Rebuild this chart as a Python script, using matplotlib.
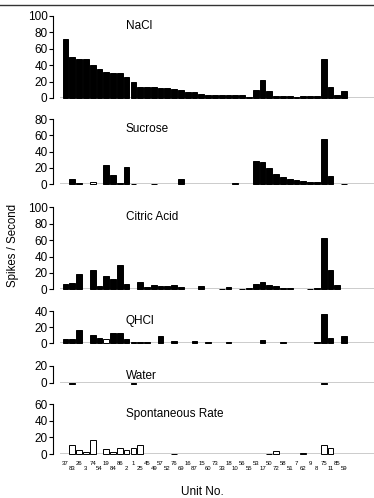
import matplotlib
matplotlib.use("Agg")
import matplotlib.pyplot as plt
from matplotlib.lines import Line2D
from matplotlib import transforms

plt.rcParams["font.family"] = ["Liberation Sans", "DejaVu Sans"]

units = ["37", "83", "26", "3", "74", "54", "19", "84", "86", "2",
         "1", "25", "45", "49", "57", "52", "76", "69", "16", "87",
         "15", "60", "73", "33", "18", "10", "56", "55", "53", "17",
         "50", "72", "58", "51", "7", "62", "9", "8", "75", "11",
         "85", "59"]

nacl = [72, 50, 48, 47, 40, 35, 32, 31, 30, 26, 20, 14, 14, 13, 12, 12,
        11, 10, 7, 7, 5, 4, 4, 4, 4, 4, 4, 1, 10, 22, 9, 3, 2, 3, 1, 2,
        2, 2, 47, 14, 4, 8]
sucrose = [0, 6, 1, 0, 3, 0, 24, 12, 2, 21, 0.5, 0, 0, 0.5, 0, 0,
           0, 6, 0, 0, 0, 0, 0, 0, 0, 1, 0, 0, 28, 27, 20, 13,
           9, 7, 5, 4, 3, 3, 56, 10, 0, 0.5]
citric = [6, 8, 19, 0, 23, 4, 16, 12, 30, 6.5, 0, 9, 3, 5, 4, 4,
          5, 3, 0, 0, 4, 0, 0, 0.5, 3, 0, 0.5, 1, 6.5, 9.5, 5, 3.5,
          1, 1, 0, 0, 0.5, 1, 62, 23.5, 5, 0]
qhcl = [5, 5, 17, 0, 10.5, 6, 5, 12.5, 12.5, 5, 1, 1, 2, 0, 9.5, 0,
        3, 0, 0, 3, 0, 2, 0, 0, 1, 0, 0, 0, 0, 4, 0, 0,
        1, 0, 0, 0, 0, 1, 36, 6.5, 0, 8.5]
water = [0, -1, 0, 0, 0, 0, 0, 0, 0, 0, -1, 0, 0, 0,
         0, 0, 0, 0, 0, 0, 0, 0, 0, 0, 0, 0, 0, 0,
         0, 0, 0, 0, 0, 0, 0, 0, 0, 0, -1, 0, 0, 0]
spont = [0, 11, 5, 2.5, 16.5, 0, 6, 3, 7, 5, 7, 10.5, 0, 0, 0, 0,
         0.5, 0, 0, 0, 0, 0, 0, 0, 0, 0, 0, 0, 0, 0,
         0.5, 4, 0, 0, 0, 1, 0, 0, 10.5, 7, 0, 0]

panels = [
    # name, values, y max, open (white) bars, top px, bottom px
    ("NaCl", nacl, 100, [], 16, 98),
    ("Sucrose", sucrose, 80, [4], 119, 184.3),
    ("Citric Acid", citric, 100, [], 207.3, 289.3),
    ("QHCl", qhcl, 40, [6], 311, 343.3),
    ("Water", water, 20, [], 366, 382.7),
    ("Spontaneous Rate", spont, 60, list(range(42)), 404.3, 454),
]

W, H = 374, 498
fig = plt.figure(figsize=(W / 100, H / 100), dpi=100)

x0, x1 = 60, 374
for name, vals, top, opens, ytop, ybot in panels:
    ax = fig.add_axes([x0 / W, 1 - ybot / H, (x1 - x0) / W, (ybot - ytop) / H])
    xs = [i for i, v in enumerate(vals) if v != 0]
    hs = [vals[i] for i in xs]
    fc = ["white" if i in opens else "black" for i in xs]
    ax.bar(xs, hs, width=0.85, color=fc, edgecolor="black", lw=0.7,
           clip_on=False)
    ax.set_xlim(-0.8, 45.4)
    ax.set_ylim(0, top)
    ax.axhline(0, color="black", lw=1.0, zorder=0)
    for s in ["top", "right", "bottom"]:
        ax.spines[s].set_visible(False)
    ax.spines["left"].set_position(("outward", 5))
    ax.spines["left"].set_linewidth(0.8)
    ax.set_yticks(range(0, top + 1, 20))
    ax.tick_params(axis="y", labelsize=8.5, length=3, width=0.8, pad=1)
    ax.set_xticks([])
    ax.text(8.9, top, name, ha="left", va="top", fontsize=8.5,
            transform=transforms.offset_copy(ax.transData, fig=fig, y=-3,
                                             units="points"))

tr = transforms.blended_transform_factory(ax.transData, fig.transFigure)
for i, u in enumerate(units):
    y = 463.7 if i % 2 == 0 else 468.6
    ax.text(i, 1 - y / H, u, ha="center", va="center", fontsize=4.3,
            transform=tr)

fig.text(202 / W, 1 - 491.5 / H, "Unit No.", ha="center", va="center",
         fontsize=8.5)
fig.text(13 / W, 1 - 245 / H, "Spikes / Second", ha="center", va="center",
         rotation=90, fontsize=8.3)
fig.add_artist(Line2D([0, 1], [1 - 5 / H, 1 - 5 / H], color="#333333",
                      lw=1.0, transform=fig.transFigure))

fig.savefig("out.png", dpi=100)
